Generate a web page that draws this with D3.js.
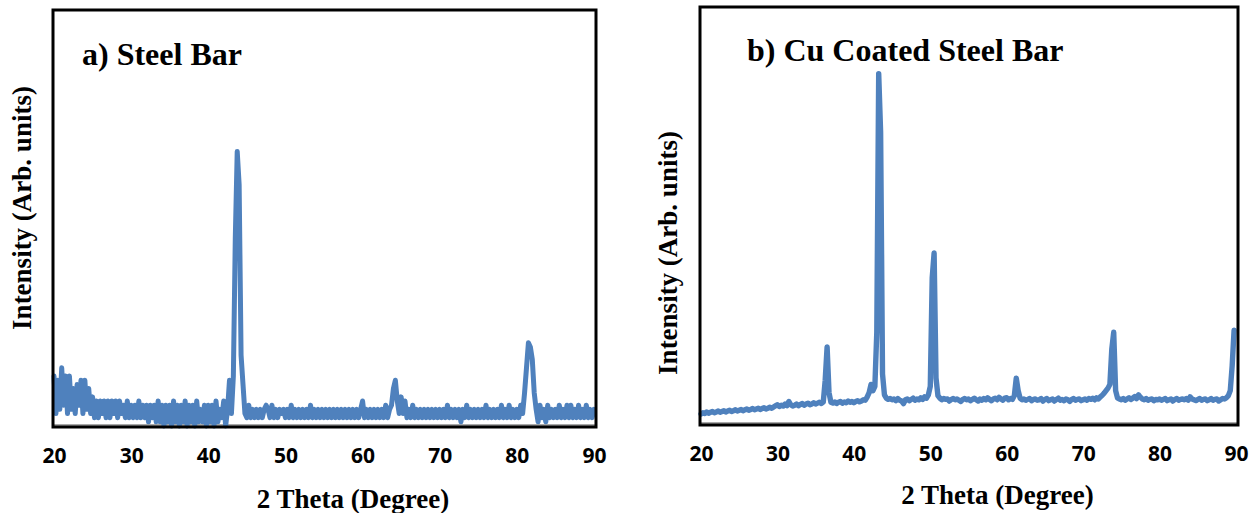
<!DOCTYPE html>
<html>
<head>
<meta charset="utf-8">
<script src="https://cdnjs.cloudflare.com/ajax/libs/d3/7.8.5/d3.min.js"></script>
<style>
  body { margin: 0; background: #fff; }
  .title { font-family: "Liberation Serif", "Times New Roman", serif; font-weight: bold; fill: #000; }
  .tick text { font-family: "Open Sans", "Liberation Sans", sans-serif; font-weight: 700; font-size: 21px; fill: #000; }
</style>
</head>
<body>
<script>

// xrd scans, 20 - 90 deg, step 0.25 deg (one row = 5 deg)
var scanStart = 20;
var scanEnd = 90;
var scanStep = 0.25;

var tickValues = [20, 30, 40, 50, 60, 70, 80, 90];

// a) steel bar, arb. units
var steelBar = [
  12,3,11,4,14,5,12,3,12,4,9,3,10,5,11,3,11,4,9,3,
  7,2,6,2,6,3,6,2,6,2,6,3,6,2,6,3,5,2,6,2,
  5,2,5,2,6,2,5,2,5,1,5,2,5,1,6,1,5,0,5,1,
  5,0,6,1,5,0,5,1,6,0,5,1,5,0,6,1,4,1,5,0,
  5,1,5,0,6,1,4,2,6,0,4,11,3,12,45,66,58,17,10,3,
  2,5,2,4,2,4,2,4,2,4,5,4,2,5,2,4,2,4,3,4,
  2,4,2,5,2,4,2,4,2,4,2,4,2,5,2,4,2,4,2,4,
  2,4,2,4,2,4,2,4,2,4,2,4,2,4,2,4,2,4,2,4,
  6,2,4,2,4,2,4,2,4,2,4,2,5,2,4,5,9,11,6,3,
  7,3,6,2,4,2,5,2,4,2,4,2,4,2,4,2,4,2,4,2,
  4,2,4,2,5,2,4,2,4,2,4,1,4,2,5,2,4,2,4,2,
  4,2,4,2,5,2,4,2,4,2,4,2,5,2,4,2,5,2,4,2,
  4,2,5,3,8,14,20,19,16,8,4,1,5,2,4,1,5,2,4,2,
  4,2,5,2,4,2,5,2,5,2,4,2,5,2,4,2,5,2,4,2,
  4
];

// b) cu coated steel bar, arb. units
var cuCoated = [
  2.4,2.7,2.5,2.9,2.6,2.8,3.0,2.7,2.9,3.1,2.8,3.0,3.2,2.9,3.1,3.3,3.0,3.2,3.4,3.1,
  3.3,3.5,3.2,3.4,3.6,3.3,3.5,3.7,3.4,3.6,3.8,3.5,3.7,3.9,3.6,3.8,4.0,3.8,4.1,4.4,
  4.6,4.2,4.5,4.3,4.8,4.4,5.4,4.6,4.3,4.5,4.8,4.4,4.7,4.9,4.5,4.8,5.0,4.6,4.8,5.1,
  4.8,5.0,5.2,4.9,5.3,10.5,18.5,7.5,5.2,5.0,5.3,4.9,5.2,5.4,5.0,5.3,5.1,5.5,5.2,5.4,
  5.1,5.4,5.6,5.3,5.5,5.8,5.7,6.5,7.5,9.5,8.0,9.0,22,84,70,12,7.0,6.2,5.9,6.1,
  5.8,6.0,5.6,6.1,5.7,5.5,4.9,5.8,6.0,5.6,5.9,6.2,5.7,6.0,5.8,6.3,5.9,6.5,6.2,7.0,
  9,35,41,11,6.8,6.2,5.8,6.1,5.9,6.0,5.5,5.9,6.1,5.8,6.0,5.7,5.4,5.9,6.1,5.8,
  6.0,5.6,5.9,6.2,5.8,5.5,6.0,5.7,6.1,5.8,6.3,5.9,5.6,6.0,6.2,5.8,6.4,6.0,5.7,6.2,
  6.3,5.8,6.1,5.9,6.8,11,8.0,6.2,5.8,6.0,5.7,5.9,6.1,5.6,5.9,6.0,5.7,5.8,6.1,5.5,
  5.9,6.1,5.6,5.8,6.0,5.5,5.9,6.2,5.7,5.9,5.6,6.0,5.8,5.4,5.9,6.1,5.7,5.9,6.0,5.6,
  5.8,6.0,5.7,6.1,5.9,6.2,5.8,6.3,6.0,6.5,6.9,7.4,8.0,8.6,9.5,18,22,8.0,6.2,6.0,
  5.8,6.1,5.7,6.0,6.3,5.9,6.2,6.6,6.1,7.0,6.4,6.0,5.8,6.1,5.7,5.9,6.0,5.6,5.9,5.8,
  6.0,5.7,5.9,6.1,5.6,5.8,6.0,5.5,5.9,6.1,5.7,5.9,6.0,5.8,6.1,5.7,6.5,6.0,5.8,5.6,
  5.9,6.1,5.7,5.9,6.0,5.6,5.8,6.1,5.7,5.9,6.0,5.5,5.8,6.1,6.0,6.3,6.8,8,14,
  22.5
];

var xTitle = "2 Theta (Degree)";
var yTitle = "Intensity (Arb. units)";

var width = 1254;
var height = 513;

var lineColor = "#4f81bd";

var twoTheta = d3.range(scanStart, scanEnd + scanStep / 2, scanStep);

var svg = d3.select("body")
    .append("svg")
    .attr("width", width)
    .attr("height", height);

var panels = [
  { label: "a) Steel Bar", data: steelBar, left: 53, right: 596, top: 10, bottom: 427,
    x0: 54, x1: 594, titleX: 82, titleY: 65, yTitleX: 31, yTitleY: 208, xTitleY: 508, stroke: 5 },
  { label: "b) Cu Coated Steel Bar", data: cuCoated, left: 700, right: 1238, top: 7, bottom: 425,
    x0: 701, x1: 1236, titleX: 747, titleY: 61, yTitleX: 677, yTitleY: 253, xTitleY: 504, stroke: 5.4 }
];

panels.forEach(function(p) {

    var xScale = d3.scaleLinear()
        .domain([scanStart, scanEnd])
        .range([p.x0, p.x1]);

    var yScale = d3.scaleLinear()
        .domain([0, 100])
        .range([p.bottom - 1, p.top]);

    var line = d3.line()
        .x(function(d, i) { return xScale(twoTheta[i]); })
        .y(function(d) { return yScale(d); });

    var g = svg.append("g");

    // grey x axis line under the frame edge
    g.append("line")
        .attr("x1", p.left).attr("x2", p.right)
        .attr("y1", p.bottom - 2).attr("y2", p.bottom - 2)
        .attr("stroke", "#8c8c8c")
        .attr("stroke-width", 1.5);

    g.append("path")
        .datum(p.data)
        .attr("fill", "none")
        .attr("stroke", lineColor)
        .attr("stroke-width", p.stroke)
        .attr("stroke-linejoin", "round")
        .attr("stroke-linecap", "round")
        .attr("d", line);

    // frame
    g.append("rect")
        .attr("x", p.left)
        .attr("y", p.top)
        .attr("width", p.right - p.left)
        .attr("height", p.bottom - p.top)
        .attr("fill", "none")
        .attr("stroke", "#000")
        .attr("stroke-width", 3);

    var axis = g.append("g")
        .attr("transform", "translate(0," + (p.bottom + 21) + ")")
        .call(d3.axisBottom(xScale).tickValues(tickValues).tickSize(0).tickPadding(0));
    axis.select(".domain").remove();
    axis.selectAll(".tick text").attr("dy", "0.71em");

    g.append("text")
        .attr("class", "title")
        .attr("x", p.titleX)
        .attr("y", p.titleY)
        .attr("font-size", 32)
        .text(p.label);

    g.append("text")
        .attr("class", "title")
        .attr("x", (p.x0 + p.x1) / 2 + 29)
        .attr("y", p.xTitleY)
        .attr("text-anchor", "middle")
        .attr("font-size", 27)
        .text(xTitle);

    g.append("text")
        .attr("class", "title")
        .attr("transform", "translate(" + p.yTitleX + "," + p.yTitleY + ") rotate(-90)")
        .attr("text-anchor", "middle")
        .attr("font-size", 27)
        .text(yTitle);
});

</script>
</body>
</html>
